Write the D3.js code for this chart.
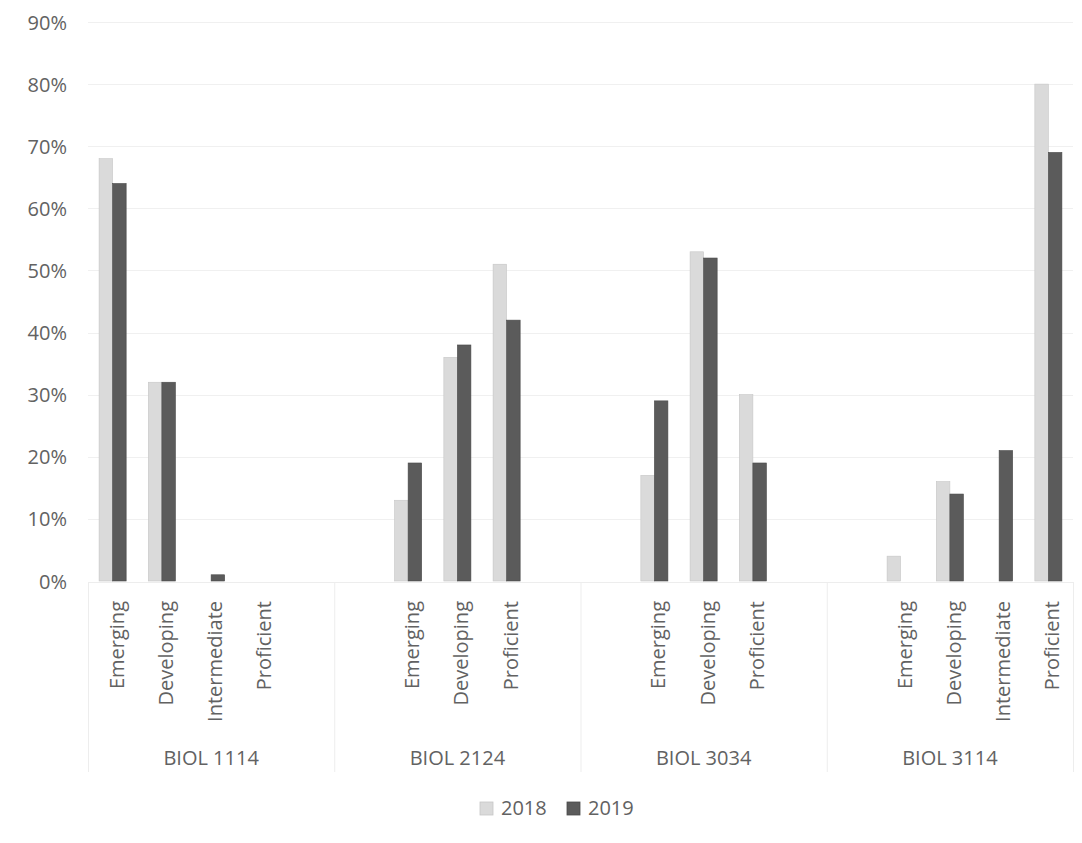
<!DOCTYPE html>
<html>
<head>
<meta charset="utf-8">
<script src="https://cdn.jsdelivr.net/npm/d3@7/dist/d3.min.js"></script>
<style>
  html, body { margin: 0; padding: 0; background: #fff; }
  svg { display: block; }
  text { font-family: "Open Sans", Lato, sans-serif; fill: #626262; }
</style>
</head>
<body>
<svg id="chart" width="1082" height="843"></svg>
<script>
// Course groups and the proficiency levels listed under each (blank slots keep groups equal width)
const groups = ["BIOL 1114", "BIOL 2124", "BIOL 3034", "BIOL 3114"];
const levels = [
  ["Emerging", "Developing", "Intermediate", "Proficient", ""],
  ["", "Emerging", "Developing", "Proficient", ""],
  ["", "Emerging", "Developing", "Proficient", ""],
  ["", "Emerging", "Developing", "Intermediate", "Proficient"]
];
const series = ["2018", "2019"];
// Percent of students at each level, per course and year
const values2018 = [
  [68, 32, 0, 0, null],
  [null, 13, 36, 51, null],
  [null, 17, 53, 30, null],
  [null, 4, 16, 0, 80]
];
const values2019 = [
  [64, 32, 1, 0, null],
  [null, 19, 38, 42, null],
  [null, 29, 52, 19, null],
  [null, 0, 14, 21, 69]
];
const yTicks = [0, 10, 20, 30, 40, 50, 60, 70, 80, 90];
const colors = { "2018": "#dadada", "2019": "#5b5b5b" };
const strokes = { "2018": "#c6c6c6", "2019": "#4a4a4a" };

const svg = d3.select("#chart");
const plotLeft = 88, plotRight = 1073, plotTop = 22, plotBottom = 581;
const fontSize = "20px";

// One leaf per (course, level) slot
const leaves = [];
groups.forEach((g, gi) => {
  levels[gi].forEach((lv, li) => {
    leaves.push({ key: g + "|" + li, group: g, level: lv,
      v: { "2018": values2018[gi][li], "2019": values2019[gi][li] } });
  });
});

const x = d3.scaleBand().domain(leaves.map(d => d.key)).range([plotLeft, plotRight]).padding(0);
const xs = d3.scaleBand().domain(series).range([0, x.bandwidth()]).paddingInner(0).paddingOuter(0.82);
const y = d3.scaleLinear().domain([0, 90]).range([plotBottom, plotTop]);

// Gridlines
svg.append("g").selectAll("line").data(yTicks.filter(t => t > 0)).join("line")
  .attr("x1", plotLeft).attr("x2", plotRight)
  .attr("y1", d => Math.round(y(d)) + 0.5).attr("y2", d => Math.round(y(d)) + 0.5)
  .attr("stroke", "#f0f0f0").attr("stroke-width", 1);

// Y axis labels
const yAxis = d3.axisLeft(y).tickValues(yTicks).tickFormat(d => d + "%").tickSize(0).tickPadding(0);
const yg = svg.append("g").attr("transform", `translate(${plotLeft - 21},0)`).call(yAxis);
yg.select(".domain").remove();
yg.selectAll("text").style("font-size", fontSize).style("font-family", null)
  .attr("fill", "#626262").attr("dy", "0.35em");

// Bars
const leafG = svg.append("g").selectAll("g").data(leaves).join("g")
  .attr("transform", d => `translate(${x(d.key)},0)`);
leafG.selectAll("rect")
  .data(d => series.filter(s => d.v[s] !== null && d.v[s] > 0).map(s => ({ s, v: d.v[s] })))
  .join("rect")
  .attr("x", d => xs(d.s))
  .attr("width", xs.bandwidth())
  .attr("y", d => y(d.v))
  .attr("height", d => y(0) - y(d.v))
  .attr("fill", d => colors[d.s])
  .attr("stroke", d => strokes[d.s])
  .attr("stroke-width", 0.6);

// Category axis: baseline and group dividers
svg.append("line").attr("x1", plotLeft).attr("x2", plotRight)
  .attr("y1", plotBottom + 1.5).attr("y2", plotBottom + 1.5)
  .attr("stroke", "#ededed");
const dividers = groups.map((g, gi) => x(g + "|0")).concat([plotRight]);
svg.append("g").selectAll("line").data(dividers).join("line")
  .attr("x1", d => d + 0.5).attr("x2", d => d + 0.5)
  .attr("y1", plotBottom + 1).attr("y2", 772)
  .attr("stroke", "#ededed");

// Level labels (rotated)
leafG.filter(d => d.level !== "").append("text")
  .attr("transform", d => `translate(${x.bandwidth() / 2 + 4},601) rotate(-90)`)
  .attr("text-anchor", "end")
  .attr("dy", "0.35em")
  .style("font-size", fontSize)
  .text(d => d.level);

// Course labels
svg.append("g").selectAll("text").data(groups).join("text")
  .attr("x", (g, gi) => (dividers[gi] + dividers[gi + 1]) / 2)
  .attr("y", 765)
  .attr("text-anchor", "middle")
  .style("font-size", fontSize)
  .text(d => d);

// Legend
const legend = svg.append("g");
const legendX = [480, 567];
series.forEach((s, i) => {
  legend.append("rect").attr("x", legendX[i]).attr("y", 802).attr("width", 13).attr("height", 13)
    .attr("fill", colors[s]).attr("stroke", strokes[s]).attr("stroke-width", 0.8);
  legend.append("text").attr("x", legendX[i] + 21).attr("y", 815)
    .style("font-size", fontSize).text(s);
});
</script>
</body>
</html>
